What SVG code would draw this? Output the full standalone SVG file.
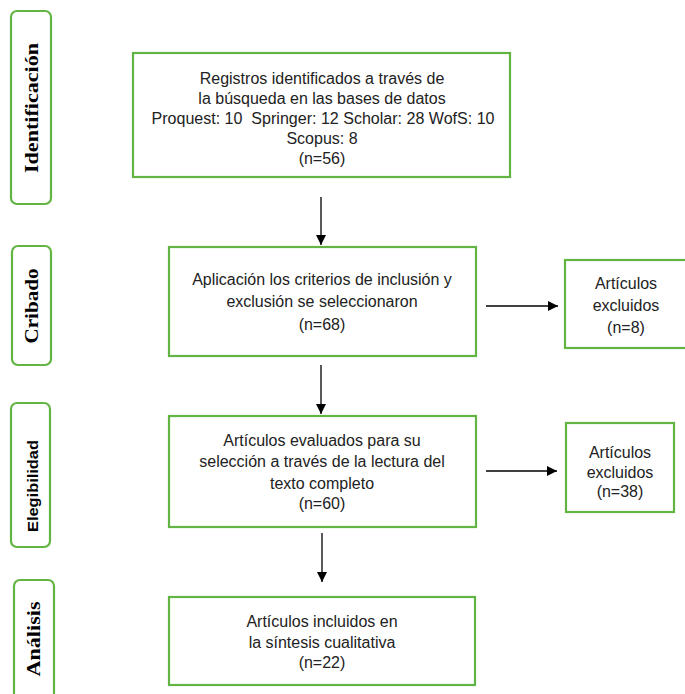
<svg xmlns="http://www.w3.org/2000/svg" width="685" height="694" viewBox="0 0 685 694">
<defs>
<marker id="ah" viewBox="0 0 10 10" refX="10" refY="5" markerWidth="10" markerHeight="10" markerUnits="userSpaceOnUse" orient="auto">
<path d="M0,0 L10,5 L0,10 z" fill="#000"/>
</marker>
<style>
.box{fill:#fff;stroke:#62b443;stroke-width:2.2}
.side{fill:#fff;stroke:#62b443;stroke-width:2.2}
.t{font-family:"Liberation Sans",Arial,sans-serif;font-size:16px;fill:#222;text-anchor:middle}
.s{font-family:"Liberation Serif","Times New Roman",serif;font-weight:bold;font-size:18px;fill:#000;text-anchor:middle}
.ss{font-family:"Liberation Sans",Arial,sans-serif;font-weight:bold;font-size:15px;fill:#000;text-anchor:middle}
.c{stroke:#000;stroke-width:1.3;fill:none;marker-end:url(#ah)}
</style>
</defs>
<rect width="685" height="694" fill="#fff"/>

<g id="lbl-identificacion">
<rect class="side" x="11" y="11" width="40" height="193" rx="6"/>
<text class="s" transform="translate(38,108) rotate(-90)" textLength="130" lengthAdjust="spacingAndGlyphs">Identificación</text>
</g>
<g id="lbl-cribado">
<rect class="side" x="12" y="246" width="39" height="119" rx="6"/>
<text class="s" transform="translate(38,306) rotate(-90)" textLength="75" lengthAdjust="spacingAndGlyphs">Cribado</text>
</g>
<g id="lbl-elegibilidad">
<rect class="side" x="11" y="403" width="39" height="144" rx="6"/>
<text class="ss" transform="translate(38,486) rotate(-90)" textLength="92" lengthAdjust="spacingAndGlyphs">Elegibilidad</text>
</g>
<g id="lbl-analisis">
<rect class="side" x="14" y="580" width="40" height="130" rx="6"/>
<text class="s" transform="translate(40,639) rotate(-90)" textLength="75" lengthAdjust="spacingAndGlyphs">Análisis</text>
</g>

<g id="n1">
<rect class="box" x="133" y="53" width="377" height="124"/>
<text class="t" x="322" y="84">Registros identificados a través de</text>
<text class="t" x="322" y="104">la búsqueda en las bases de datos</text>
<text class="t" x="323" y="124" xml:space="preserve" textLength="343" lengthAdjust="spacingAndGlyphs">Proquest: 10  Springer: 12 Scholar: 28 WofS: 10</text>
<text class="t" x="322" y="144">Scopus: 8</text>
<text class="t" x="322" y="164">(n=56)</text>
</g>
<g id="n2">
<rect class="box" x="169" y="247" width="307" height="109"/>
<text class="t" x="322" y="285">Aplicación los criterios de inclusión y</text>
<text class="t" x="322" y="307">exclusión se seleccionaron</text>
<text class="t" x="322" y="330">(n=68)</text>
</g>
<g id="n3">
<rect class="box" x="169" y="416" width="307" height="111"/>
<text class="t" x="322" y="446">Artículos evaluados para su</text>
<text class="t" x="322" y="467">selección a través de la lectura del</text>
<text class="t" x="322" y="489">texto completo</text>
<text class="t" x="322" y="509">(n=60)</text>
</g>
<g id="n4">
<rect class="box" x="169" y="597" width="306" height="88"/>
<text class="t" x="322" y="627">Artículos incluidos en</text>
<text class="t" x="322" y="648">la síntesis cualitativa</text>
<text class="t" x="322" y="668">(n=22)</text>
</g>
<g id="x1">
<rect class="box" x="565" y="260" width="125" height="88"/>
<text class="t" x="626" y="289">Artículos</text>
<text class="t" x="626" y="311">excluidos</text>
<text class="t" x="626" y="333">(n=8)</text>
</g>
<g id="x2">
<rect class="box" x="566" y="423" width="108" height="89"/>
<text class="t" x="620" y="458">Artículos</text>
<text class="t" x="620" y="478">excluidos</text>
<text class="t" x="620" y="497">(n=38)</text>
</g>

<g id="connectors">
<line class="c" x1="321" y1="197" x2="321" y2="245"/>
<line class="c" x1="321" y1="365" x2="321" y2="414"/>
<line class="c" x1="322" y1="533" x2="322" y2="582"/>
<line class="c" x1="486" y1="306" x2="558" y2="306"/>
<line class="c" x1="486" y1="471" x2="557" y2="471"/>
</g>
</svg>
